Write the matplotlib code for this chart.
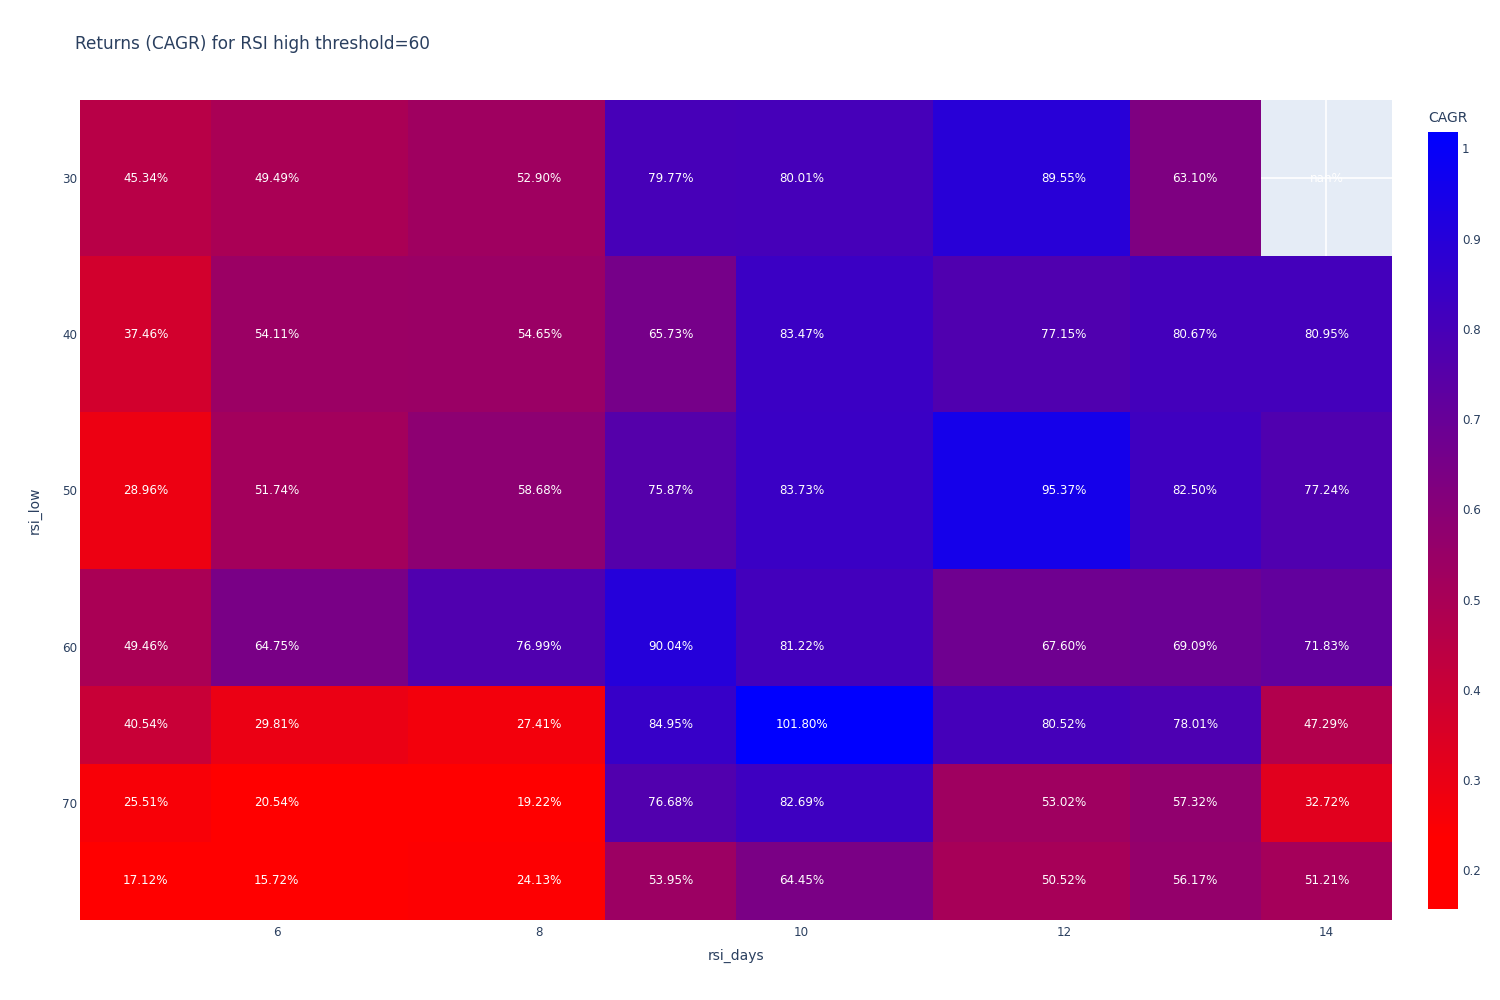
import numpy as np
import matplotlib.pyplot as plt
from matplotlib.colors import LinearSegmentedColormap

rsi_days = [5, 6, 8, 9, 10, 12, 13, 14]
rsi_low = [30, 40, 50, 60, 65, 70, 75]

cagr_pct = [
    [45.34, 49.49, 52.90, 79.77, 80.01, 89.55, 63.10, np.nan],
    [37.46, 54.11, 54.65, 65.73, 83.47, 77.15, 80.67, 80.95],
    [28.96, 51.74, 58.68, 75.87, 83.73, 95.37, 82.50, 77.24],
    [49.46, 64.75, 76.99, 90.04, 81.22, 67.60, 69.09, 71.83],
    [40.54, 29.81, 27.41, 84.95, 101.80, 80.52, 78.01, 47.29],
    [25.51, 20.54, 19.22, 76.68, 82.69, 53.02, 57.32, 32.72],
    [17.12, 15.72, 24.13, 53.95, 64.45, 50.52, 56.17, 51.21],
]

x_ticks = [6, 8, 10, 12, 14]
y_ticks = [30, 40, 50, 60, 70]
cbar_ticks = [0.2, 0.3, 0.4, 0.5, 0.6, 0.7, 0.8, 0.9, 1.0]


def edges(c):
    # cell borders halfway between neighbouring values, like plotly does
    c = np.asarray(c, dtype=float)
    mid = (c[:-1] + c[1:]) / 2
    first = c[0] - (mid[0] - c[0])
    last = c[-1] + (c[-1] - mid[-1])
    return np.concatenate([[first], mid, [last]])


z = np.array(cagr_pct) / 100.0
zmin, zmax = np.nanmin(z), np.nanmax(z)

txt_color = '#2a3f5f'
plt.rcParams['font.family'] = ['DejaVu Sans']

fig = plt.figure(figsize=(15, 10), dpi=100)
ax = fig.add_axes([80 / 1500, 0.08, 1312 / 1500, 0.82])
cax = fig.add_axes([1428 / 1500, 0.091, 30 / 1500, 0.777])

# red -> blue, the low end looks saturated in the reference
cmap = LinearSegmentedColormap.from_list(
    'rb', [(0.0, '#ff0000'), (0.09, '#ff0000'), (1.0, '#0000ff')])

ax.set_facecolor('#E5ECF6')
ax.set_axisbelow(True)
ax.grid(color='white', linewidth=1.2)

mesh = ax.pcolormesh(edges(rsi_days), edges(rsi_low), np.ma.masked_invalid(z),
                     cmap=cmap, vmin=zmin, vmax=zmax, zorder=1)

for i, yv in enumerate(rsi_low):
    for j, xv in enumerate(rsi_days):
        v = cagr_pct[i][j]
        label = 'nan%' if np.isnan(v) else f'{v:.2f}%'
        ax.text(xv, yv, label, ha='center', va='center', color='white', fontsize=8.6, zorder=3)

xe, ye = edges(rsi_days), edges(rsi_low)
ax.set_xlim(xe[0], xe[-1])
ax.set_ylim(ye[-1], ye[0])
ax.set_xticks(x_ticks)
ax.set_yticks(y_ticks)
ax.tick_params(length=0, labelsize=8.6, labelcolor=txt_color)
ax.tick_params(axis='x', pad=4)
ax.tick_params(axis='y', pad=2)
for s in ax.spines.values():
    s.set_visible(False)

fig.text(736 / 1500, 1 - 956 / 1000, 'rsi_days', fontsize=10, color=txt_color, ha='center', va='center')
fig.text(35 / 1500, 1 - 510 / 1000, 'rsi_low', fontsize=10, color=txt_color, ha='center', va='center',
         rotation=90)

cb = fig.colorbar(mesh, cax=cax, ticks=cbar_ticks)
cb.outline.set_visible(False)
cb.ax.set_yticklabels([f'{t:g}' for t in cbar_ticks])
cb.ax.tick_params(length=0, labelsize=8.6, labelcolor=txt_color, pad=3)
fig.text(1428 / 1500, 1 - 118 / 1000, 'CAGR', fontsize=10, color=txt_color, ha='left', va='center')

fig.text(75 / 1500, 1 - 44 / 1000, 'Returns (CAGR) for RSI high threshold=60',
         fontsize=12.2, color=txt_color, ha='left', va='center')

fig.savefig('out.png', dpi=100)
